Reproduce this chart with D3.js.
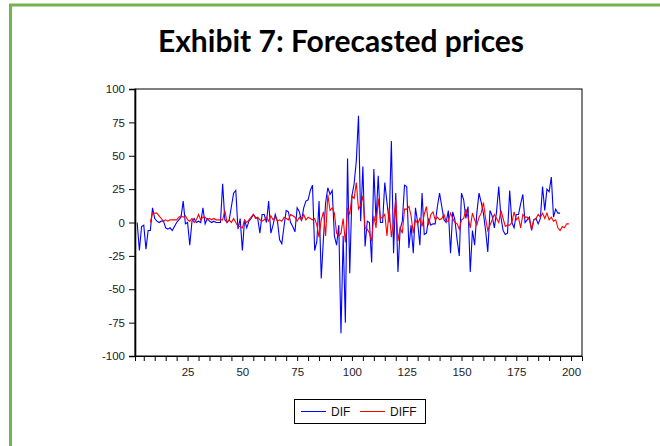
<!DOCTYPE html>
<html>
<head>
<meta charset="utf-8">
<script src="https://cdn.jsdelivr.net/npm/d3@7"></script>
<style>
  body { margin: 0; background: #fff; }
  svg { display: block; }
  .axis text { font-family: "Liberation Sans", Arial, sans-serif; font-size: 11.5px; fill: #222; }
  .legend text { font-family: "Liberation Sans", Arial, sans-serif; font-size: 12px; fill: #111; }
</style>
</head>
<body>
<div class="svg-container"></div>
<script>
// DIF (blue) starts at observation 2
const difStart = 2;
const difValues = [
  0, -21, -3, -2, -20, -6, -6, 11, 3, 1,
  0, 1, 1, -4, -5, -4, -6, -3, 0, 2,
  4, 16, -1, 0, -17, 1, 3, 0, 1, 0,
  11, -1, 3, 1, 0, 1, 0, 0, 0, 29,
  2, 0, 2, 12, 22, 24, -5, 3, -21, 2,
  -4, 1, 3, 6, 4, 3, -8, 6, 6, 0,
  16, -8, -2, 6, 1, -13, -16, -3, 9, 8,
  0, -3, -7, 11, 8, 1, 11, 16, 17, 24,
  28, -21, -14, 16, -42, -12, 15, 26, 21, 24,
  -10, -17, -2, -83, -10, -75, 48, -38, 20, 29,
  46, 80, 1, 42, -18, 1, 0, -30, 40, 1,
  35, 0, 0, 30, 15, 0, 61, -23, 22, -37,
  -5, 1, 28, 27, -19, -2, -23, 11, 0, -17,
  22, -9, -8, 3, -2, -1, -1, 12, 22, 12,
  2, 0, 9, -23, 8, 2, -13, -25, 22, 17,
  3, 12, -37, -6, -17, 7, 22, 15, 7, -6,
  -22, 9, 5, -4, 8, 27, 4, -6, -9, -8,
  24, 0, -4, 6, 6, 14, 21, 0, 2, 4,
  -6, 2, 3, -1, 3, 27, 9, 25, 23, 34,
  4, 10, 7, 7
];

// DIFF (red) starts at observation 8
const diffStart = 8;
const diffValues = [
  0, 7, 7, 7, 5, 3, 1, 2, 1, 2,
  2, 2, 2, 4, 5, 4, 5, 2, 1, 3,
  0, 2, 6, 2, 4, 4, 2, 3, 2, 3,
  2, 2, 2, 2, 9, 0, 2, 0, 3, 0,
  -3, -3, -4, 2, 0, 2, 4, 6, 3, 4,
  2, 1, 2, 4, 1, 5, 2, 4, 1, 2,
  1, 4, 3, 2, 6, 5, 4, 1, 4, 2,
  6, 2, 4, 3, 2, 3, -2, -11, 2, 8,
  -10, 21, 9, 11, 7, -8, -10, -8, 3, -15,
  11, 6, 20, 18, 30, 10, 13, 20, -4, -5,
  -8, -14, 5, -4, 18, 3, 4, 6, -10, 11,
  -11, 1, 17, -14, -4, -8, 10, 10, 12, 5,
  -8, 2, -1, 3, -3, 6, 12, -2, 6, 8,
  2, 4, 2, 3, 6, 1, 1, 7, 3, 0,
  -1, -5, 2, 3, 10, 4, -4, 7, 2, -2,
  4, 7, 15, 3, -6, -2, 2, 6, 3, 0,
  9, 3, -3, -2, -2, 0, 8, 2, 4, -4,
  6, 4, 4, 2, -5, 2, 3, 6, 4, 7,
  3, 7, 2, 4, 1, 2, -4, -6, -3, -4,
  -1, -1
];

const xMinorTicks = d3.range(5, 205, 5);
const xLabelTicks = [25, 50, 75, 100, 125, 150, 175, 200];
const yTicks = [-100, -75, -50, -25, 0, 25, 50, 75, 100];
const seriesNames = ['DIF', 'DIFF'];
const chartTitle = 'Exhibit 7: Forecasted prices';

const width = 660;
const height = 446;
const plot = { left: 135, top: 89, right: 582, bottom: 356 };

const svg = d3.select('.svg-container')
  .append('svg')
  .attr('width', width)
  .attr('height', height)

// green frame around the exhibit (runs off the right and bottom edges)
svg.append('rect')
  .attr('x', 10.5)
  .attr('y', 5)
  .attr('width', 720)
  .attr('height', 520)
  .attr('fill', 'none')
  .attr('stroke', '#77b150')
  .attr('stroke-width', 3)

svg.append('text')
  .text(chartTitle)
  .attr('x', 341)
  .attr('y', 52)
  .attr('text-anchor', 'middle')
  .style('font-family', 'Lato, "Open Sans", sans-serif')
  .style('font-weight', 'bold')
  .style('font-size', '30px')
  .style('fill', '#000')

// scales
const xScale = d3.scaleLinear()
  .domain([1, 205])
  .range([plot.left, plot.right])

const yScale = d3.scaleLinear()
  .domain([-100, 100])
  .range([plot.bottom, plot.top])

// plot box
svg.append('rect')
  .attr('x', plot.left)
  .attr('y', plot.top)
  .attr('width', plot.right - plot.left)
  .attr('height', plot.bottom - plot.top)
  .attr('fill', 'none')
  .attr('stroke', '#000')
  .attr('stroke-width', 1)

const xAxis = d3.axisBottom(xScale)
  .tickValues(xMinorTicks)
  .tickFormat((d) => xLabelTicks.includes(d) ? String(d) : '')
  .tickSize(5)
  .tickPadding(6.5)

const yAxis = d3.axisLeft(yScale)
  .tickValues(yTicks)
  .tickFormat((d) => String(d))
  .tickSize(6)
  .tickPadding(4)

svg.append('g')
  .attr('class', 'axis')
  .attr('transform', `translate(0, ${plot.bottom})`)
  .call(xAxis)

svg.append('g')
  .attr('class', 'axis')
  .attr('transform', `translate(${plot.left}, 0)`)
  .call(yAxis)
  .call((g) => g.select('.domain').attr('stroke-width', 1.6))

// series as {x, y} points
const difData = difValues.map((v, i) => ({ x: difStart + i, y: v }));
const diffData = diffValues.map((v, i) => ({ x: diffStart + i, y: v }));

const line = d3.line()
  .x((d) => xScale(d.x))
  .y((d) => yScale(d.y))

svg.append('path')
  .datum(difData)
  .attr('d', line)
  .attr('fill', 'none')
  .attr('stroke', '#0000ff')
  .attr('stroke-width', 1.1)

svg.append('path')
  .datum(diffData)
  .attr('d', line)
  .attr('fill', 'none')
  .attr('stroke', '#ff0000')
  .attr('stroke-width', 1.1)

// legend
const legend = svg.append('g')
  .attr('class', 'legend')
  .attr('transform', 'translate(294, 399)')

legend.append('rect')
  .attr('x', 0.5)
  .attr('y', 0.5)
  .attr('width', 131)
  .attr('height', 24)
  .attr('fill', '#fff')
  .attr('stroke', '#000')

const legendColors = ['#0000ff', '#ff0000'];
const legendOffsets = [7, 66];

seriesNames.forEach((name, i) => {
  legend.append('line')
    .attr('x1', legendOffsets[i])
    .attr('x2', legendOffsets[i] + 25)
    .attr('y1', 12.5)
    .attr('y2', 12.5)
    .attr('stroke', legendColors[i])
    .attr('stroke-width', 1)

  legend.append('text')
    .text(name)
    .attr('x', legendOffsets[i] + 30)
    .attr('y', 17)
})
</script>
</body>
</html>
